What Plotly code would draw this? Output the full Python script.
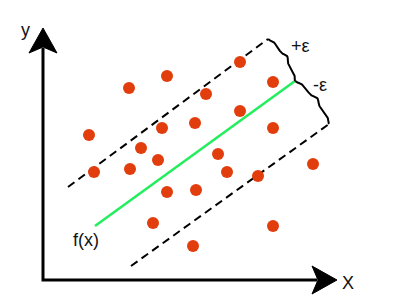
import numpy as np
import plotly.graph_objects as go

# Data (origin at the axis corner, 1 unit ~ 1 px)
pts_x = [86, 124, 197, 230, 163, 46, 119, 152, 197, 230, 98, 51, 87, 115, 175, 184, 215, 270, 124, 153, 110, 150, 230]
pts_y = [192, 204, 218, 198, 186, 145, 152, 157, 169, 152, 132, 108, 111, 120, 126, 108, 104, 116, 88, 90, 57, 34, 54]

fx_x = [52, 252]
fx_y = [54, 199]
upper_x = [25, 225]
upper_y = [93, 241]
lower_x = [88, 286]
lower_y = [14, 156]

axis_y_top = 252
axis_x_right = 294

labels = {"y": (-18, 250), "X": (305, -3), "f(x)": (43, 40), "+ε": (257, 234), "-ε": (277, 195)}

FONT = "Liberation Sans, Arial, sans-serif"


def brace(p0, p1, w, n=80, k=45):
    p0 = np.array(p0, float)
    p1 = np.array(p1, float)
    d = p1 - p0
    L = np.linalg.norm(d)
    u = d / L
    nrm = np.array([-u[1], u[0]])
    t = np.linspace(0, 1, n)
    half = np.where(t <= 0.5, t, 1 - t)
    off = w * (1 / (1 + np.exp(-k * (half - 0.07))) + 1 / (1 + np.exp(-k * (half - 0.43)))) / 2
    pts = p0[None, :] + t[:, None] * d[None, :] + off[:, None] * nrm[None, :]
    return pts[:, 0], pts[:, 1]


fig = go.Figure()

# dashed epsilon-tube boundaries
for xs, ys in [(upper_x, upper_y), (lower_x, lower_y)]:
    fig.add_trace(go.Scatter(x=xs, y=ys, mode="lines",
                             line=dict(color="black", width=2, dash="8px,5px"),
                             hoverinfo="skip", showlegend=False))

# regression line f(x)
fig.add_trace(go.Scatter(x=fx_x, y=fx_y, mode="lines",
                         line=dict(color="#22EE5E", width=2.5),
                         hoverinfo="skip", showlegend=False))

# braces
bx, by = brace((upper_x[1], upper_y[1]), (fx_x[1], fx_y[1]), 7)
fig.add_trace(go.Scatter(x=bx, y=by, mode="lines", line=dict(color="black", width=2),
                         hoverinfo="skip", showlegend=False))
bx, by = brace((fx_x[1], fx_y[1]), (lower_x[1], lower_y[1]), 7)
fig.add_trace(go.Scatter(x=bx, y=by, mode="lines", line=dict(color="black", width=2),
                         hoverinfo="skip", showlegend=False))

# data points
fig.add_trace(go.Scatter(x=pts_x, y=pts_y, mode="markers",
                         marker=dict(color="#E23D0C", size=12, line=dict(width=0)),
                         hoverinfo="skip", showlegend=False))

# axes with notched arrowheads
shapes = [
    dict(type="path", path=f"M 0,{axis_y_top - 20} L 0,0 L {axis_x_right - 20},0",
         line=dict(color="black", width=3)),
    dict(type="path",
         path=f"M 0,{axis_y_top} L 14,{axis_y_top - 25} L 0,{axis_y_top - 19} L -14,{axis_y_top - 25} Z",
         fillcolor="black", line=dict(color="black", width=1)),
    dict(type="path",
         path=f"M {axis_x_right},0 L {axis_x_right - 25},14 L {axis_x_right - 19},0 L {axis_x_right - 25},-14 Z",
         fillcolor="black", line=dict(color="black", width=1)),
]

annotations = [
    dict(x=x, y=y, text=t, showarrow=False, xanchor="center", yanchor="middle",
         font=dict(family=FONT, size=18, color="#111"))
    for t, (x, y) in labels.items()
]

fig.update_layout(
    width=400, height=300,
    margin=dict(l=0, r=0, t=0, b=0),
    paper_bgcolor="white", plot_bgcolor="white",
    xaxis=dict(range=[-43, 357], visible=False, fixedrange=True),
    yaxis=dict(range=[-20, 280], visible=False, fixedrange=True),
    shapes=shapes, annotations=annotations,
    showlegend=False,
)

fig.write_html("out.html")
